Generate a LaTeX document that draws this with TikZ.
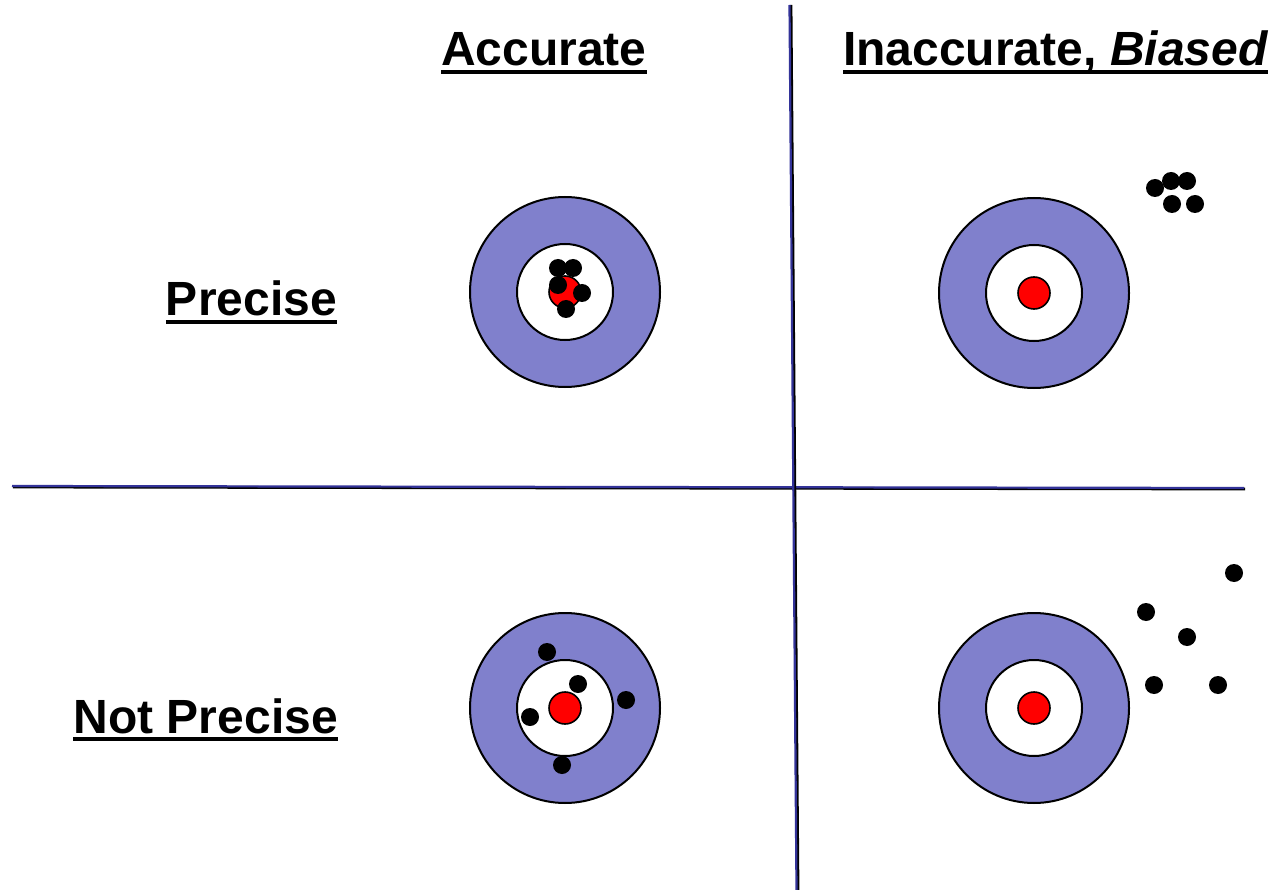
\documentclass[tikz,border=0pt]{standalone}
\usepackage{fontspec}
\setmainfont{Liberation Sans}
\definecolor{ringblue}{RGB}{128,128,204}
\definecolor{lineblue}{RGB}{51,51,153}
\begin{document}
\begin{tikzpicture}[x=1pt,y=-1pt,
  outerring/.style={circle,draw=black,line width=2pt,fill=ringblue,minimum size=190pt,inner sep=0pt},
  innerring/.style={circle,draw=black,line width=2pt,fill=white,minimum size=96pt,inner sep=0pt},
  bull/.style={circle,draw=black,line width=1.6pt,fill=red,minimum size=32pt,inner sep=0pt},
  shot/.style={circle,fill=black,minimum size=18pt,inner sep=0pt},
  lbl/.style={inner sep=0pt,font=\fontsize{48}{56}\selectfont\bfseries},
  uline/.style={line width=3.5pt},
  divshadow/.style={line width=2.8pt,draw=black},
  divline/.style={line width=2.2pt,draw=lineblue}]
\useasboundingbox (0,0) rectangle (1274,890);
\fill[white] (0,0) rectangle (1274,890);
% dividers
\coordinate (vt) at (790,5);
\coordinate (vb) at (797,890);
\coordinate (hl) at (12,486);
\coordinate (hr) at (1244,488);
\draw[divshadow] ([xshift=1pt,yshift=-1pt]hl) -- ([xshift=1pt,yshift=-1pt]hr);
\draw[divline] (hl) -- (hr);
\draw[divshadow] ([xshift=1pt]vt) -- ([xshift=1pt]vb);
\draw[divline] ([xshift=-0.5pt]vt) -- ([xshift=-0.5pt]vb);
% labels
\node[lbl,anchor=base west] (acc) at (441,66) {Accurate};
\node[lbl,anchor=base west] (inacc) at (843,66) {Inaccurate, \textit{Biased}};
\node[lbl,anchor=base east] (prec) at (337,316) {Precise};
\node[lbl,anchor=base east] (nprec) at (338,733) {Not Precise};
\foreach \n in {acc,inacc,prec,nprec}
  \draw[uline] ([yshift=-6pt]\n.base west) -- ([yshift=-6pt]\n.base east);
% targets
\foreach \t/\x/\y in {tl/565/292,tr/1034/293,bl/565/708,br/1034/708}{
  \node[outerring] (\t o) at (\x,\y) {};
  \node[innerring] (\t i) at (\x,\y) {};
  \node[bull] (\t c) at (\x,\y) {};
}
% shots
\foreach \x/\y [count=\i] in {558/268,573/268,558/285,582/293,566/309}
  \node[shot] (tls\i) at (\x,\y) {};
\foreach \x/\y [count=\i] in {1155/188,1171/181,1187/181,1172/204,1195/204}
  \node[shot] (trs\i) at (\x,\y) {};
\foreach \x/\y [count=\i] in {547/652,578/684,626/700,530/717,562/765}
  \node[shot] (bls\i) at (\x,\y) {};
\foreach \x/\y [count=\i] in {1234/573,1146/612,1187/637,1154/685,1218/685}
  \node[shot] (brs\i) at (\x,\y) {};
\end{tikzpicture}
\end{document}
